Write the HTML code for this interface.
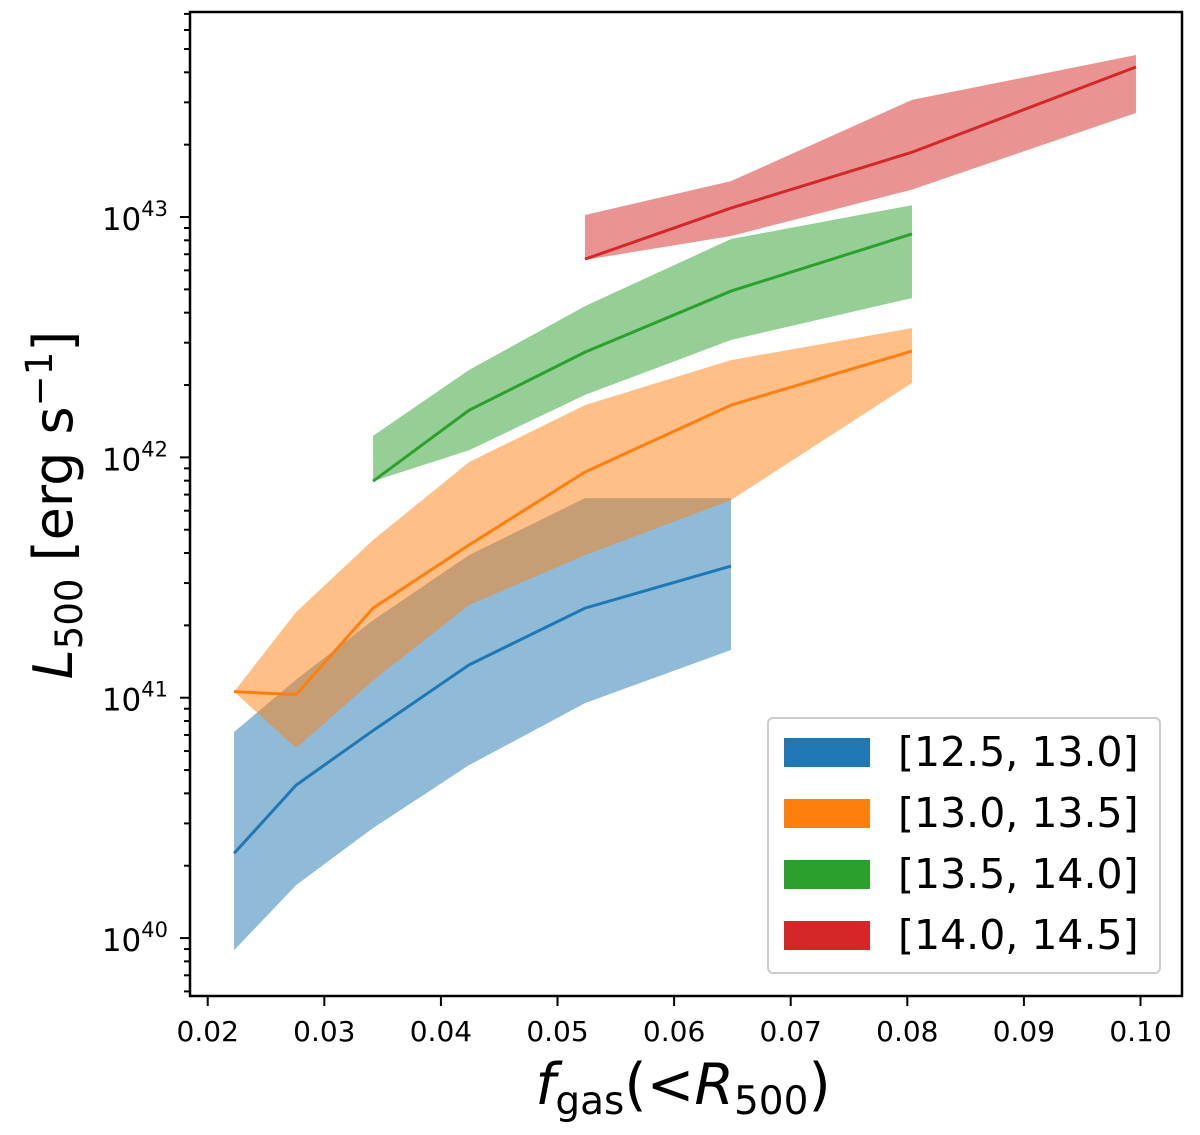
<!DOCTYPE html>
<html><head><meta charset="utf-8"><style>
body{margin:0;background:#fff;}
svg text{font-family:"DejaVu Sans","Liberation Sans",sans-serif;fill:#000;}
</style></head><body>
<svg id="chart" width="1200" height="1130" viewBox="0 0 1200 1130">
<g id="bands"></g><g id="lines"></g><g id="axes"></g><g id="legend"></g>
</svg>
<script>
const xs = [0.02226,0.02758,0.03418,0.04241,0.05236,0.06488,0.08040,0.09961];
const blueMid=[2.25e40,4.33e40,7.3e40,1.37e41,2.36e41,3.53e41];
const blueUp=[7.2e40,1.19e41,2.1e41,3.92e41,6.77e41,6.77e41];
const blueLo=[8.9e39,1.66e40,2.87e40,5.24e40,9.5e40,1.58e41];
const orangeMid=[1.06e41,1.03e41,2.36e41,4.32e41,8.69e41,1.65e42,2.77e42];
const orangeUp=[1.06e41,2.27e41,4.53e41,9.55e41,1.65e42,2.54e42,3.45e42];
const orangeLo=[1.06e41,6.17e40,1.18e41,2.43e41,3.92e41,6.64e41,2.04e42];
const greenMid=[7.96e41,1.57e42,2.74e42,4.92e42,8.5e42];
const greenUp=[1.23e42,2.31e42,4.26e42,8.1e42,1.12e43];
const greenLo=[7.96e41,1.07e42,1.82e42,3.08e42,4.6e42];
const redMid=[6.68e42,1.09e43,1.86e43,4.21e43];
const redUp=[1.02e43,1.41e43,3.07e43,4.72e43];
const redLo=[6.63e42,8.34e42,1.30e43,2.71e43];
const xTicks=[0.02,0.03,0.04,0.05,0.06,0.07,0.08,0.09,0.10];
const xTickLabels=["0.02","0.03","0.04","0.05","0.06","0.07","0.08","0.09","0.10"];
const yDecades=[40,41,42,43];
const legendLabels=["[12.5, 13.0]","[13.0, 13.5]","[13.5, 14.0]","[14.0, 14.5]"];

const L=190,R=1182,T=12,B=996;
const xMin=0.01848,xMax=0.10356,yMin=39.759,yMax=43.853;
const sx=v=>L+(v-xMin)/(xMax-xMin)*(R-L);
const sy=v=>B-(Math.log10(v)-yMin)/(yMax-yMin)*(B-T);
const NS="http://www.w3.org/2000/svg";
function mk(tag,attrs,parent){const e=document.createElementNS(NS,tag);for(const k in attrs)e.setAttribute(k,attrs[k]);parent.appendChild(e);return e;}
const bands=document.getElementById('bands'),lines=document.getElementById('lines'),axes=document.getElementById('axes'),legend=document.getElementById('legend');
const series=[
 {n:'12-5-13-0',c:'#1f77b4',off:0,mid:blueMid,up:blueUp,lo:blueLo},
 {n:'13-0-13-5',c:'#ff7f0e',off:0,mid:orangeMid,up:orangeUp,lo:orangeLo},
 {n:'13-5-14-0',c:'#2ca02c',off:2,mid:greenMid,up:greenUp,lo:greenLo},
 {n:'14-0-14-5',c:'#d62728',off:4,mid:redMid,up:redUp,lo:redLo}];
series.forEach(s=>{
  let pts=s.up.map((v,i)=>sx(xs[i+s.off])+','+sy(v));
  for(let i=s.lo.length-1;i>=0;i--)pts.push(sx(xs[i+s.off])+','+sy(s.lo[i]));
  const p=mk('polygon',{points:pts.join(' '),fill:s.c,'fill-opacity':0.5},bands);
  
  
  const l=mk('polyline',{points:s.mid.map((v,i)=>sx(xs[i+s.off])+','+sy(v)).join(' '),fill:'none',stroke:s.c,'stroke-width':3},lines);
  
  
});
const fr=mk('rect',{x:L,y:T,width:R-L,height:B-T,fill:'none',stroke:'#000','stroke-width':2.5},axes);


xTicks.forEach((v,i)=>{
  const x=sx(v);
  mk('line',{x1:x,x2:x,y1:B,y2:B+10,stroke:'#000','stroke-width':2},axes);
  const t=mk('text',{x:x,y:1041,'text-anchor':'middle','font-size':28},axes);
  t.textContent=xTickLabels[i];
  
  
});
for(let d=39;d<=43;d++){for(let m=1;m<10;m++){const v=m*Math.pow(10,d);const y=sy(v);if(y<T-1||y>B+1)continue;
  mk('line',{x1:L,x2:L-(m===1?10:6),y1:y,y2:y,stroke:'#000','stroke-width':2},axes);}}
yDecades.forEach(d=>{
  const y=sy(Math.pow(10,d));
  const t=mk('text',{x:168,y:y+13,'text-anchor':'end','font-size':31},axes);
  
  
  t.innerHTML='10<tspan dy="-14" font-size="21">'+d+'</tspan>';
});
const xl=mk('text',{x:683,y:1104,'text-anchor':'middle','font-size':57},axes);


xl.innerHTML='<tspan font-style="italic">f</tspan><tspan font-size="39" dy="10">gas</tspan><tspan dy="-10">(&lt;</tspan><tspan font-style="italic">R</tspan><tspan font-size="39" dy="10">500</tspan><tspan dy="-10">)</tspan>';
const yl=mk('text',{x:0,y:0,'text-anchor':'middle','font-size':54,transform:'translate(72,505) rotate(-90)'},axes);


yl.innerHTML='<tspan font-style="italic">L</tspan><tspan font-size="37" dy="10">500</tspan><tspan dy="-10"> [erg s</tspan><tspan font-size="37" dy="-20">−1</tspan><tspan dy="20">]</tspan>';
const lb=mk('rect',{x:768,y:718,width:392,height:255,rx:5,fill:'#fff',stroke:'#ccc','stroke-width':2},legend);


legendLabels.forEach((lab,i)=>{
  const y=752+i*61;
  const r=mk('rect',{x:784,y:y-14,width:86,height:29,fill:series[i].c},legend);
  
  
  const t=mk('text',{x:898,y:y+14,'font-size':41},legend);
  t.textContent=lab;
  
  
});
</script>
</body></html>
